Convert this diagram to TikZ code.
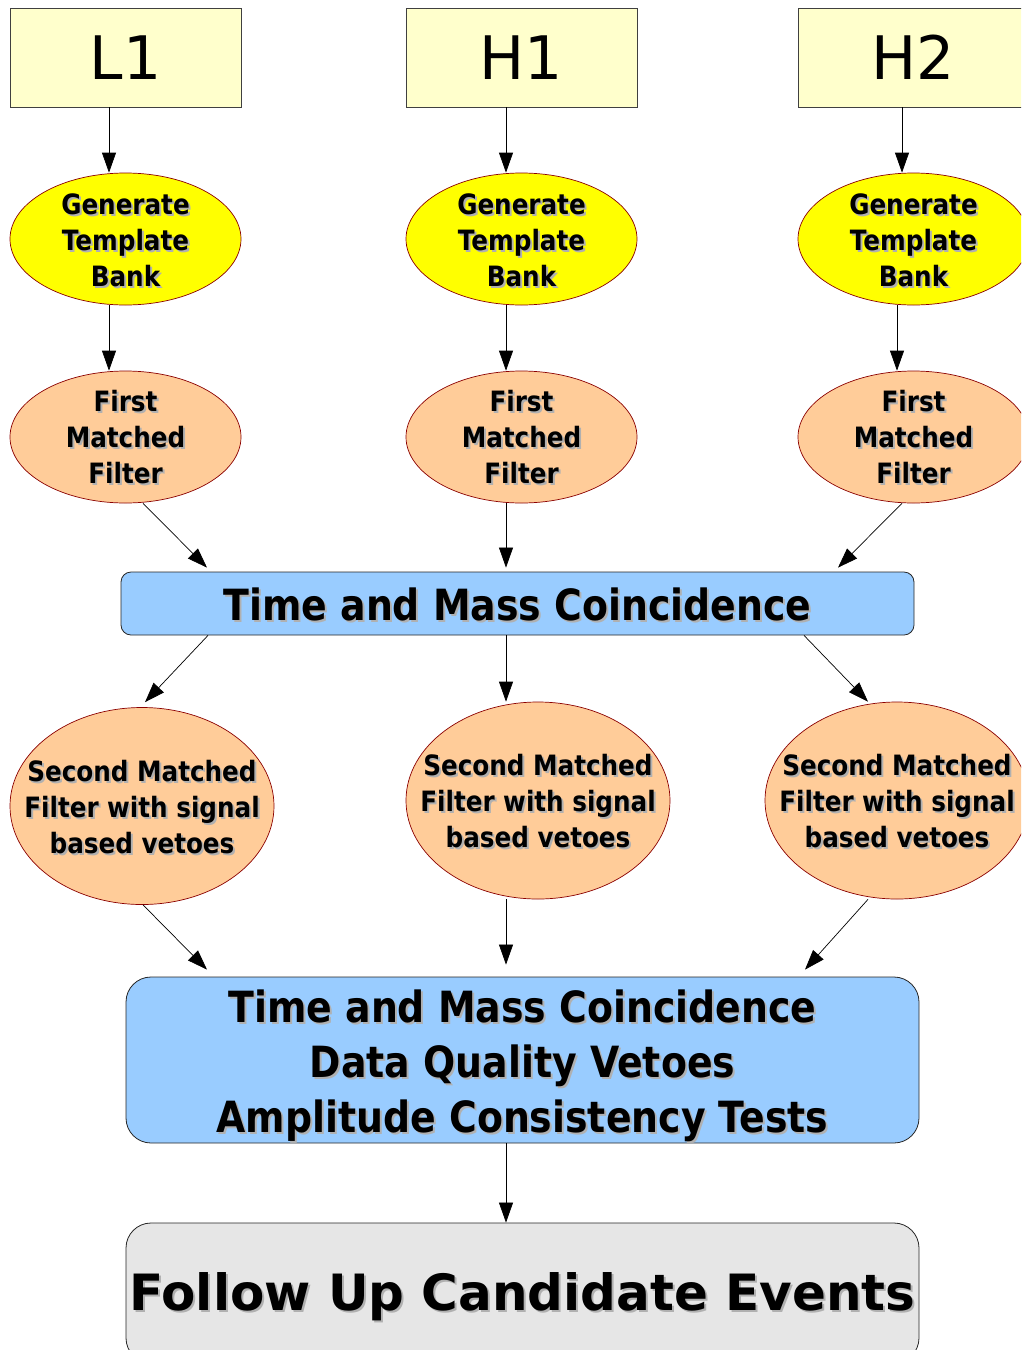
\documentclass[tikz,border=0pt]{standalone}
\usepackage{fontspec}
\setmainfont{DejaVu Sans}
\newfontfamily\bfnar[FakeStretch=0.88]{DejaVu Sans}
\usetikzlibrary{shapes.geometric,arrows.meta}
\definecolor{ifoyellow}{HTML}{FFFFCC}
\definecolor{genyellow}{HTML}{FFFF00}
\definecolor{filtorange}{HTML}{FFCC99}
\definecolor{coincblue}{HTML}{99CCFF}
\definecolor{followgray}{HTML}{E6E6E6}
\definecolor{ellred}{HTML}{8B0000}
\definecolor{shadowgray}{HTML}{B0B0B0}
\newcommand\shd[1]{\leavevmode\rlap{\kern2pt\raisebox{-2pt}{\textcolor{shadowgray}{#1}}}#1}
\begin{document}
\begin{tikzpicture}[x=1pt,y=-1pt,
  ifobox/.style={draw=black!75, fill=ifoyellow, line width=0.8pt, minimum width=231pt, minimum height=99pt, inner sep=0pt, font=\fontsize{60}{60}\selectfont},
  genell/.style={ellipse, draw=ellred, fill=genyellow, line width=0.7pt, minimum width=231pt, minimum height=132pt, inner sep=0pt},
  firstell/.style={ellipse, draw=ellred, fill=filtorange, line width=0.7pt, minimum width=231pt, minimum height=132pt, inner sep=0pt},
  secell/.style={ellipse, draw=ellred, fill=filtorange, line width=0.7pt, minimum width=264pt, minimum height=197pt, inner sep=0pt},
  elltext/.style={align=center, inner sep=0pt, font=\fontsize{28}{36}\bfnar\bfseries},
  coincbox/.style={draw=black!85, fill=coincblue, line width=0.8pt, minimum width=793pt, inner sep=0pt, align=center},
  arr/.style={-{Triangle[length=20pt,width=14pt]}, line width=0.7pt, black}
]
\useasboundingbox (0,0) rectangle (1021,1350);
\clip (0,0) rectangle (1021,1350);

% detectors
\node[ifobox] (L1) at (125.5,57.5) {L1};
\node[ifobox] (H1) at (521.5,57.5) {H1};
\node[ifobox] (H2) at (913.5,57.5) {H2};

% template banks
\node[genell] (g1) at (125.5,239) {};
\node[genell] (g2) at (521.5,239) {};
\node[genell] (g3) at (913.5,239) {};
\node[elltext] (g1t) at ([yshift=-2pt]g1) {\shd{Generate}\\\shd{Template}\\\shd{Bank}};
\node[elltext] (g2t) at ([yshift=-2pt]g2) {\shd{Generate}\\\shd{Template}\\\shd{Bank}};
\node[elltext] (g3t) at ([yshift=-2pt]g3) {\shd{Generate}\\\shd{Template}\\\shd{Bank}};

% first matched filters
\node[firstell] (f1) at (125.5,437) {};
\node[firstell] (f2) at (521.5,437) {};
\node[firstell] (f3) at (913.5,437) {};
\node[elltext] (f1t) at ([yshift=-1pt]f1) {\shd{First}\\\shd{Matched}\\\shd{Filter}};
\node[elltext] (f2t) at ([yshift=-1pt]f2) {\shd{First}\\\shd{Matched}\\\shd{Filter}};
\node[elltext] (f3t) at ([yshift=-1pt]f3) {\shd{First}\\\shd{Matched}\\\shd{Filter}};

% first coincidence
\node[coincbox, rounded corners=10pt, minimum height=63pt] (c1) at (517.5,603.5) {};
\node[inner sep=0pt, font=\fontsize{43}{55}\bfnar\bfseries] (c1t) at ([yshift=-1.5pt]c1) {\shd{Time and Mass Coincidence}};

% second matched filters
\node[secell] (s1) at (142,806) {};
\node[secell] (s2) at (538,800.5) {};
\node[secell] (s3) at (897,800.5) {};
\node[elltext] (s1t) at ([yshift=-2pt]s1) {\shd{Second Matched}\\\shd{Filter with signal}\\\shd{based vetoes}};
\node[elltext] (s2t) at ([yshift=-2pt]s2) {\shd{Second Matched}\\\shd{Filter with signal}\\\shd{based vetoes}};
\node[elltext] (s3t) at ([yshift=-2pt]s3) {\shd{Second Matched}\\\shd{Filter with signal}\\\shd{based vetoes}};

% second coincidence
\node[coincbox, rounded corners=25pt, minimum height=166pt] (c2) at (522.5,1060) {};
\node[align=center, inner sep=0pt, font=\fontsize{43}{55}\bfnar\bfseries] (c2t) at ([yshift=-7pt]c2) {\shd{Time and Mass Coincidence}\\\shd{Data Quality Vetoes}\\\shd{Amplitude Consistency Tests}};

% follow up
\node[draw=black!85, fill=followgray, line width=0.8pt, rounded corners=25pt, minimum width=793pt, minimum height=140pt, inner sep=0pt] (fu) at (522.5,1293) {};
\node[inner sep=0pt, font=\fontsize{50}{60}\selectfont\bfseries] (fut) at ([yshift=-5pt]fu) {\shd{Follow Up Candidate Events}};

% connectors
\draw[arr] ([xshift=-16.5pt]L1.south) -- ([xshift=-16.5pt]g1.north);
\draw[arr] ([xshift=-15.5pt]H1.south) -- ([xshift=-15.5pt]g2.north);
\draw[arr] ([xshift=-11.5pt]H2.south) -- ([xshift=-11.5pt]g3.north);

\draw[arr] ([xshift=-16.5pt]g1.south) -- ([xshift=-16.5pt]f1.north);
\draw[arr] ([xshift=-15.5pt]g2.south) -- ([xshift=-15.5pt]f2.north);
\draw[arr] ([xshift=-16.5pt]g3.south) -- ([xshift=-16.5pt]f3.north);

\draw[arr] ([xshift=17.5pt]f1.south) -- ([xshift=-310.5pt,yshift=4pt]c1.north);
\draw[arr] ([xshift=-15.5pt]f2.south) -- ([xshift=-11.5pt,yshift=4pt]c1.north);
\draw[arr] ([xshift=-11.5pt]f3.south) -- ([xshift=320.5pt,yshift=4pt]c1.north);

\draw[arr] ([xshift=-309.5pt]c1.south) -- ([xshift=3pt,yshift=5pt]s1.north);
\draw[arr] ([xshift=-11.5pt]c1.south) -- ([xshift=-32pt]s2.north);
\draw[arr] ([xshift=286.5pt]c1.south) -- ([xshift=-29pt]s3.north);

\draw[arr] ([xshift=1pt]s1.south) -- ([xshift=-315.5pt,yshift=7pt]c2.north);
\draw[arr] ([xshift=-32pt]s2.south) -- ([xshift=-16.5pt,yshift=12pt]c2.north);
\draw[arr] ([xshift=-29pt]s3.south) -- ([xshift=282.5pt,yshift=7pt]c2.north);

\draw[arr] ([xshift=-16.5pt]c2.south) -- ([xshift=-16.5pt]fu.north);
\end{tikzpicture}
\end{document}
